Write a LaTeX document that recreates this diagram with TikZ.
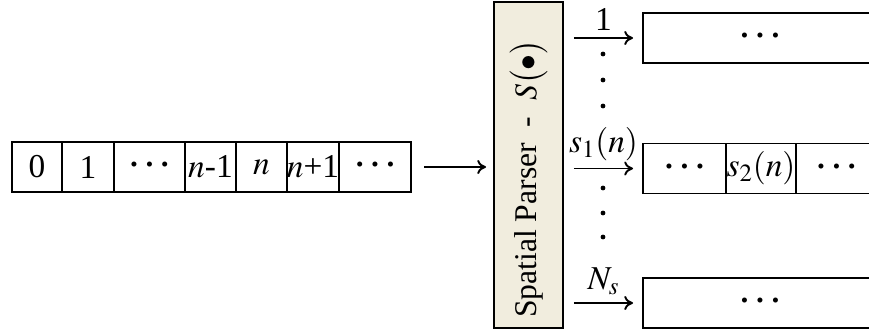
\documentclass[tikz,border=0pt]{standalone}
\usepackage{mathptmx}
\usepackage{fontspec}
\setmainfont{Liberation Serif}
\usetikzlibrary{positioning, arrows.meta}

\definecolor{parserfill}{RGB}{241,237,222}

% three spaced dots inside a cell
\newcommand{\celldots}{{\fontsize{12}{12}\selectfont
    \textbullet\hspace{4.6pt}\textbullet\hspace{4.6pt}\textbullet}}

\begin{document}
\begin{tikzpicture}[
    x=0.02cm,
    y=-0.02cm,
    cell/.style={draw, line width=1.1pt, inner sep=0pt, outer sep=0pt,
        minimum height=1cm, font=\fontsize{19}{23}\selectfont},
    parser/.style={draw, line width=1.1pt, fill=parserfill, inner sep=0pt,
        minimum width=1.38cm, minimum height=6.52cm},
    flow/.style={-{To[length=5pt, width=8pt]}, line width=1.1pt},
    flowlabel/.style={font=\fontsize{19}{23}\selectfont, inner sep=1pt},
    vdot/.style={black}
]

% -------------------------------------------------------------------------
% Frame
% -------------------------------------------------------------------------
\clip (0,0) rectangle (869,334);

% -------------------------------------------------------------------------
% Input sequence
% -------------------------------------------------------------------------
\node[ cell, minimum width=1.00cm ] (in0) at (37,167) {0};
\node[ cell, minimum width=1.04cm, right=0pt of in0 ] (in1) {1};
\node[ cell, minimum width=1.42cm, right=0pt of in1 ] (in2) {\celldots};
\node[ cell, minimum width=1.02cm, right=0pt of in2 ] (in3) {$n$-1};
\node[ cell, minimum width=1.02cm, right=0pt of in3 ] (in4) {$n$};
\node[ cell, minimum width=1.02cm, right=0pt of in4 ] (in5) {$n$+1};
\node[ cell, minimum width=1.44cm, right=0pt of in5 ] (in6) {\celldots};

% -------------------------------------------------------------------------
% Spatial parser
% -------------------------------------------------------------------------
\node[ parser ] (parser) at (528.5,165) {};
\node[ rotate=90, font=\fontsize{18}{22}\selectfont ] (parserlabel)
    at (528.5,179) {Spatial Parser\ \ -\ \ $S\bigl(\bullet\bigr)$};

\draw[ flow, shorten <=0.26cm, shorten >=0.14cm ]
    (in6.east) -- (in6.east -| parser.west);

% -------------------------------------------------------------------------
% Output sequences
% -------------------------------------------------------------------------
\node[ cell, minimum width=4.68cm ] (outA) at (760,38) {\celldots};

\node[ cell, minimum width=1.66cm ] (outB0) at (684.5,168.5) {\celldots};
\node[ cell, minimum width=1.40cm, right=0pt of outB0 ] (outB1) {$s_2(n)$};
\node[ cell, minimum width=1.62cm, right=0pt of outB1 ] (outB2) {\celldots};

\node[ cell, minimum width=4.68cm ] (outC) at (760,303) {\celldots};

% -------------------------------------------------------------------------
% Parser outputs
% -------------------------------------------------------------------------
\draw[ flow, shorten <=0.2cm, shorten >=0.2cm ]
    (outA.west -| parser.east) -- node[ flowlabel, above=3pt ] (labA) {1} (outA.west);
\draw[ flow, shorten <=0.2cm, shorten >=0.2cm ]
    (outB0.west -| parser.east) -- node[ flowlabel, above=3pt ] (labB) {$s_1(n)$} (outB0.west);
\draw[ flow, shorten <=0.2cm, shorten >=0.2cm ]
    (outC.west -| parser.east) -- node[ flowlabel, above=3pt ] (labC) {$N_s$} (outC.west);

% vertical dots between the outputs
\foreach \y in {54,80,106,188,213,237}{
    \fill[ vdot ] (603,\y) circle (2.4);
}

\end{tikzpicture}
\end{document}
